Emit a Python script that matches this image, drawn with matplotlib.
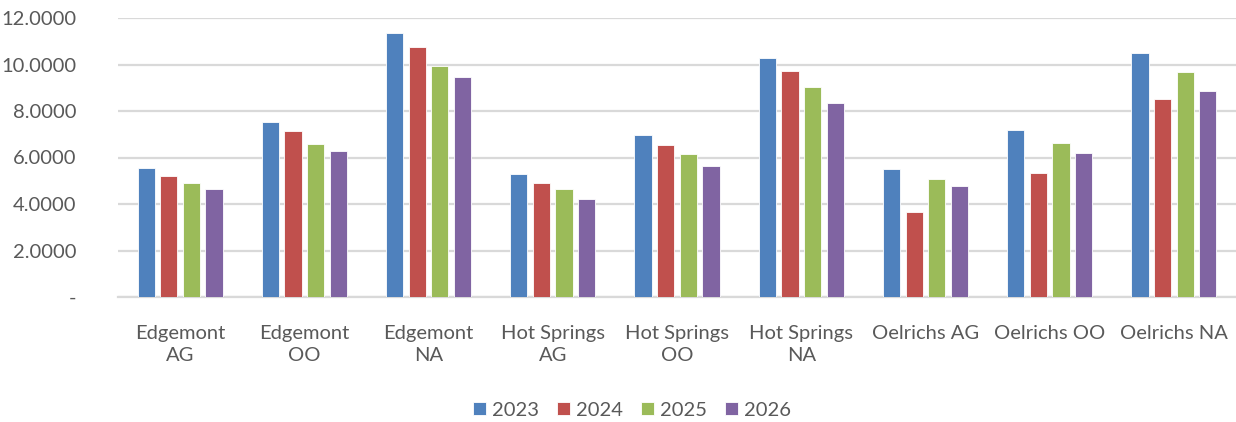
import numpy as np
import matplotlib.pyplot as plt
from matplotlib.ticker import FuncFormatter

# categories and yearly values
categories = ["Edgemont\nAG", "Edgemont\nOO", "Edgemont\nNA",
              "Hot Springs\nAG", "Hot Springs\nOO", "Hot Springs\nNA",
              "Oelrichs AG", "Oelrichs OO", "Oelrichs NA"]
years = ["2023", "2024", "2025", "2026"]
v2023 = [5.54, 7.52, 11.36, 5.27, 6.96, 10.26, 5.49, 7.20, 10.49]
v2024 = [5.22, 7.12, 10.77, 4.89, 6.54, 9.73, 3.67, 5.32, 8.52]
v2025 = [4.89, 6.59, 9.93, 4.63, 6.13, 9.02, 5.06, 6.64, 9.68]
v2026 = [4.63, 6.28, 9.47, 4.23, 5.65, 8.36, 4.78, 6.18, 8.88]
colors = ["#4F81BD", "#C0504D", "#9BBB59", "#8064A2"]

plt.rcParams['font.family'] = ['Lato', 'DejaVu Sans']

fig = plt.figure(figsize=(12.36, 4.22), dpi=100)
ax = fig.add_axes([118 / 1236, 1 - 297 / 422, 1 - 118 / 1236, (297 - 18) / 422])

x = np.arange(len(categories))
width = 0.139
step = 0.182
for i, (vals, yr) in enumerate(zip([v2023, v2024, v2025, v2026], years)):
    ax.bar(x + (i - 1.5) * step, vals, width, color=colors[i], label=yr,
           edgecolor="white", linewidth=0.6, zorder=3)

ax.set_xlim(-0.5, len(categories) - 0.5)
ax.set_ylim(0, 12)
ax.set_yticks(np.arange(0, 13, 2))
ax.yaxis.set_major_formatter(FuncFormatter(lambda v, p: "-" if v == 0 else f"{v:.4f}"))
ax.grid(axis="y", color="#D9D9D9", linewidth=1.6, zorder=0)
ax.set_axisbelow(True)
for s in ["top", "right", "left"]:
    ax.spines[s].set_visible(False)
ax.spines["bottom"].set_color("#D9D9D9")
ax.spines["bottom"].set_linewidth(1.6)

ax.set_xticks(x)
ax.set_xticklabels(categories, linespacing=1.35)
ax.tick_params(axis="both", length=0, labelsize=14.5, colors="#595959")
ax.tick_params(axis="x", pad=20)
ax.tick_params(axis="y", pad=30)

leg = fig.legend(loc="center", bbox_to_anchor=(632 / 1236, 1 - 410 / 422), ncol=4,
                 frameon=False, fontsize=14.5, handlelength=0.65, handleheight=0.65,
                 handletextpad=0.3, columnspacing=0.9)
for t in leg.get_texts():
    t.set_color("#595959")

fig.savefig("out.png", dpi=100)
